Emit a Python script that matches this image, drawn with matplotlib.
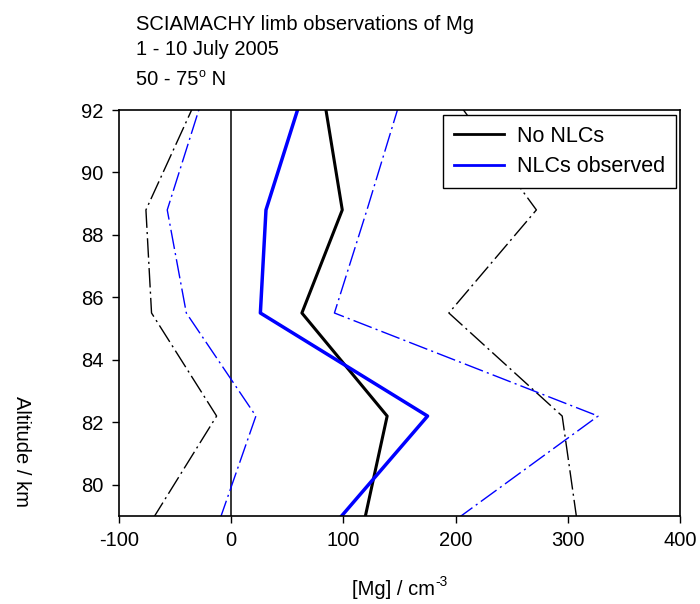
import matplotlib
matplotlib.use("Agg")
import matplotlib.pyplot as plt

plt.rcParams['font.family'] = ['Liberation Sans', 'DejaVu Sans']
plt.rcParams['axes.unicode_minus'] = False

altitude = [78.9, 82.2, 85.5, 88.8, 92.1]
no_nlc_mean = [119, 139, 63, 99, 84]
no_nlc_low = [-70, -13, -71, -76, -34]
no_nlc_high = [308, 295, 194, 272, 205]
nlc_mean = [96, 175, 26, 31, 60]
nlc_low = [-10, 22, -40, -57, -28]
nlc_high = [201, 327, 92, 121, 149]

series_labels = ["No NLCs", "NLCs observed"]
title_lines = ["SCIAMACHY limb observations of Mg", "1 - 10 July 2005", "50 - 75", "o", " N"]
xlabel_parts = ["[Mg] / cm", "-3"]
xticks = [-100, 0, 100, 200, 300, 400]
yticks = [80, 82, 84, 86, 88, 90, 92]

fs = 14.5

fig = plt.figure(figsize=(7.0, 6.04), dpi=100)
ax = fig.add_axes([119/700, 1-516/604, 561/700, 406/604])

dash = (0, (14, 3, 1.5, 3))
ax.axvline(0, color='black', lw=1.1, zorder=1)
ax.plot(no_nlc_low, altitude, color='black', lw=1.0, linestyle=dash)
ax.plot(no_nlc_high, altitude, color='black', lw=1.0, linestyle=dash)
ax.plot(nlc_low, altitude, color='blue', lw=1.0, linestyle=dash)
ax.plot(nlc_high, altitude, color='blue', lw=1.0, linestyle=dash)
l1, = ax.plot(no_nlc_mean, altitude, color='black', lw=2.2, label=series_labels[0])
l2, = ax.plot(nlc_mean, altitude, color='blue', lw=2.5, label=series_labels[1])

ax.set_xlim(-100, 400)
ax.set_ylim(79, 92)
ax.set_xticks(xticks)
ax.set_yticks(yticks)
ax.tick_params(direction='out', length=5, width=1, labelsize=fs, pad=6)
for s in ax.spines.values():
    s.set_linewidth(1.2)

lfs = 15.5
leg = ax.legend(handles=[l1, l2], loc='upper right', fontsize=lfs, frameon=True,
                fancybox=False, edgecolor='black', framealpha=1, handlelength=2.35,
                borderpad=0.5, labelspacing=0.45, handletextpad=0.6,
                borderaxespad=0, bbox_to_anchor=(0.993, 0.988))
leg.get_frame().set_linewidth(1.0)
for h in leg.get_lines():
    h.set_linewidth(2.0)

fig.text(136/700, 1-30/604, title_lines[0], fontsize=fs, va='baseline', ha='left')
fig.text(136/700, 1-55/604, title_lines[1], fontsize=fs, va='baseline', ha='left')
t3 = fig.text(136/700, 1-85/604, title_lines[2], fontsize=fs, va='baseline', ha='left')

fig.text(21/700, 1-452/604, "Altitude / km", rotation=270, fontsize=fs, ha='center', va='center')
xl = fig.text(400/700, 1-595/604, xlabel_parts[0], fontsize=fs, ha='center', va='baseline')

fig.canvas.draw()
r = fig.canvas.get_renderer()
bb = t3.get_window_extent(r)
t3o = fig.text(bb.x1/700 + 0.5/700, 1-77/604, title_lines[3], fontsize=fs*0.62, va='baseline', ha='left')
fig.canvas.draw()
bbo = t3o.get_window_extent(r)
fig.text(bbo.x1/700, 1-85/604, title_lines[4], fontsize=fs, va='baseline', ha='left')

sup_w = 14
xl.set_x((400 - sup_w/2)/700)
fig.canvas.draw()
bbx = xl.get_window_extent(r)
fig.text(bbx.x1/700 + 1/700, 1-586/604, xlabel_parts[1], fontsize=fs*0.68, va='baseline', ha='left')

fig.savefig("out.png", dpi=100)
